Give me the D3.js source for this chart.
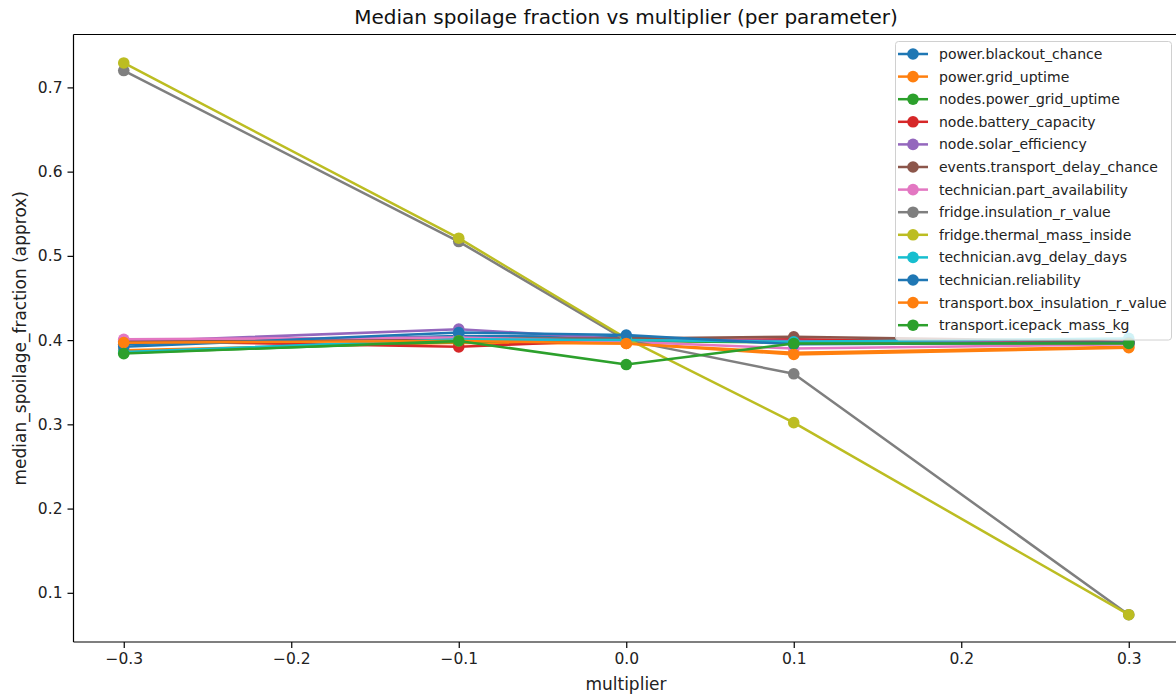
<!DOCTYPE html>
<html>
<head>
<meta charset="utf-8">
<script src="https://cdn.jsdelivr.net/npm/d3@7/dist/d3.min.js"></script>
<style>
  html, body { margin: 0; padding: 0; background: #fff; }
  svg { display: block; font-family: "DejaVu Sans", sans-serif; }
</style>
</head>
<body>
<svg id="chart" width="1176" height="696"></svg>
<script>
// Multiplier values applied to each parameter
const multipliers = [-0.3, -0.1, 0.0, 0.1, 0.3];

// Parameter names, in plotting order
const parameters = [
  "power.blackout_chance",
  "power.grid_uptime",
  "nodes.power_grid_uptime",
  "node.battery_capacity",
  "node.solar_efficiency",
  "events.transport_delay_chance",
  "technician.part_availability",
  "fridge.insulation_r_value",
  "fridge.thermal_mass_inside",
  "technician.avg_delay_days",
  "technician.reliability",
  "transport.box_insulation_r_value",
  "transport.icepack_mass_kg"
];

// Median spoilage fraction for each parameter at each multiplier
const powerBlackoutChance        = [0.395, 0.405, 0.404, 0.398, 0.396];
const powerGridUptime            = [0.388, 0.397, 0.396, 0.385, 0.392];
const nodesPowerGridUptime       = [0.385, 0.398, 0.399, 0.397, 0.397];
const nodeBatteryCapacity        = [0.399, 0.392, 0.400, 0.401, 0.397];
const nodeSolarEfficiency        = [0.398, 0.413, 0.401, 0.399, 0.396];
const eventsTransportDelayChance = [0.398, 0.402, 0.402, 0.404, 0.398];
const technicianPartAvailability = [0.401, 0.403, 0.398, 0.390, 0.395];
const fridgeInsulationRValue     = [0.720, 0.517, 0.400, 0.360, 0.074];
const fridgeThermalMassInside    = [0.729, 0.521, 0.402, 0.302, 0.074];
const technicianAvgDelayDays     = [0.386, 0.401, 0.400, 0.398, 0.402];
const technicianReliability      = [0.392, 0.409, 0.406, 0.395, 0.397];
const transportBoxInsulationR    = [0.397, 0.399, 0.396, 0.383, 0.391];
const transportIcepackMassKg     = [0.384, 0.399, 0.371, 0.396, 0.396];

const seriesValues = [
  powerBlackoutChance, powerGridUptime, nodesPowerGridUptime, nodeBatteryCapacity,
  nodeSolarEfficiency, eventsTransportDelayChance, technicianPartAvailability,
  fridgeInsulationRValue, fridgeThermalMassInside, technicianAvgDelayDays,
  technicianReliability, transportBoxInsulationR, transportIcepackMassKg
];

// Axis ticks
const xTicks = [-0.3, -0.2, -0.1, 0.0, 0.1, 0.2, 0.3];
const yTicks = [0.1, 0.2, 0.3, 0.4, 0.5, 0.6, 0.7];

const palette = ["#1f77b4", "#ff7f0e", "#2ca02c", "#d62728", "#9467bd",
                 "#8c564b", "#e377c2", "#7f7f7f", "#bcbd22", "#17becf"];

const series = parameters.map((name, i) => ({
  name,
  color: palette[i % palette.length],
  points: multipliers.map((m, j) => ({ x: m, y: seriesValues[i][j] }))
}));

const svg = d3.select("#chart");

// Plot area
const plotLeft = 73.5, plotRight = 1179, plotTop = 34.5, plotBottom = 642;
const x = d3.scaleLinear().domain([-0.33, 0.33]).range([plotLeft, plotRight]);
const y = d3.scaleLinear().domain([0.0416, 0.7628]).range([plotBottom, plotTop]);

const fmt = v => d3.format(".1f")(v).replace("-", "\u2212");

const lineW = 2.5, markerR = 5.8;

// Lines and markers
const plot = svg.append("g");
const line = d3.line().x(d => x(d.x)).y(d => y(d.y));
series.forEach(s => {
  const g = plot.append("g");
  g.append("path")
    .datum(s.points)
    .attr("d", line)
    .attr("fill", "none")
    .attr("stroke", s.color)
    .attr("stroke-width", lineW)
    .attr("stroke-linejoin", "round")
    .attr("stroke-linecap", "butt");
  g.selectAll("circle")
    .data(s.points)
    .join("circle")
    .attr("cx", d => x(d.x))
    .attr("cy", d => y(d.y))
    .attr("r", markerR)
    .attr("fill", s.color);
});

// Axes
const xAxis = d3.axisBottom(x).tickValues(xTicks).tickFormat(fmt).tickSize(6).tickPadding(5);
const yAxis = d3.axisLeft(y).tickValues(yTicks).tickFormat(fmt).tickSize(6).tickPadding(5);

const gx = svg.append("g").attr("transform", `translate(0,${plotBottom})`).call(xAxis);
const gy = svg.append("g").attr("transform", `translate(${plotLeft},0)`).call(yAxis);
[gx, gy].forEach(g => {
  g.select(".domain").remove();
  g.selectAll(".tick line").attr("stroke", "#000").attr("stroke-width", 1.2);
  g.selectAll(".tick text").attr("fill", "#222").style("font-size", "15.5px")
    .style("font-family", "DejaVu Sans, sans-serif");
});

// Spines
const spines = svg.append("g").attr("stroke", "#000").attr("stroke-width", 1.2).attr("fill", "none");
spines.append("line").attr("x1", plotLeft).attr("x2", plotLeft).attr("y1", plotTop).attr("y2", plotBottom);
spines.append("line").attr("x1", plotLeft).attr("x2", plotRight).attr("y1", plotBottom).attr("y2", plotBottom);
spines.append("line").attr("x1", plotLeft).attr("x2", plotRight).attr("y1", plotTop).attr("y2", plotTop);
spines.append("line").attr("x1", plotRight).attr("x2", plotRight).attr("y1", plotTop).attr("y2", plotBottom);

// Title and axis labels
svg.append("text")
  .attr("x", 626).attr("y", 24)
  .attr("text-anchor", "middle")
  .style("font-size", "20px").attr("fill", "#111")
  .text("Median spoilage fraction vs multiplier (per parameter)");

svg.append("text")
  .attr("x", 626).attr("y", 690)
  .attr("text-anchor", "middle")
  .style("font-size", "17px").attr("fill", "#222")
  .text("multiplier");

svg.append("text")
  .attr("transform", `translate(26,${(plotTop + plotBottom) / 2}) rotate(-90)`)
  .attr("text-anchor", "middle")
  .style("font-size", "17px").attr("fill", "#222")
  .text("median_spoilage_fraction (approx)");

// Legend
const legX = 895.5, legY = 41.5, legW = 276, legH = 298.5;
const legend = svg.append("g");
legend.append("rect")
  .attr("x", legX).attr("y", legY).attr("width", legW).attr("height", legH)
  .attr("rx", 3).attr("ry", 3)
  .attr("fill", "rgba(255,255,255,0.8)")
  .attr("stroke", "#d0d0d0").attr("stroke-width", 1);

const rowStart = 54, rowStep = 22.6;
series.forEach((s, i) => {
  const cy = rowStart + i * rowStep;
  const row = legend.append("g");
  row.append("line")
    .attr("x1", 898).attr("x2", 928).attr("y1", cy).attr("y2", cy)
    .attr("stroke", s.color).attr("stroke-width", lineW);
  row.append("circle").attr("cx", 913).attr("cy", cy).attr("r", markerR).attr("fill", s.color);
  row.append("text")
    .attr("x", 939).attr("y", cy).attr("dy", "0.35em")
    .style("font-size", "14px").attr("fill", "#222")
    .text(s.name);
});
</script>
</body>
</html>
